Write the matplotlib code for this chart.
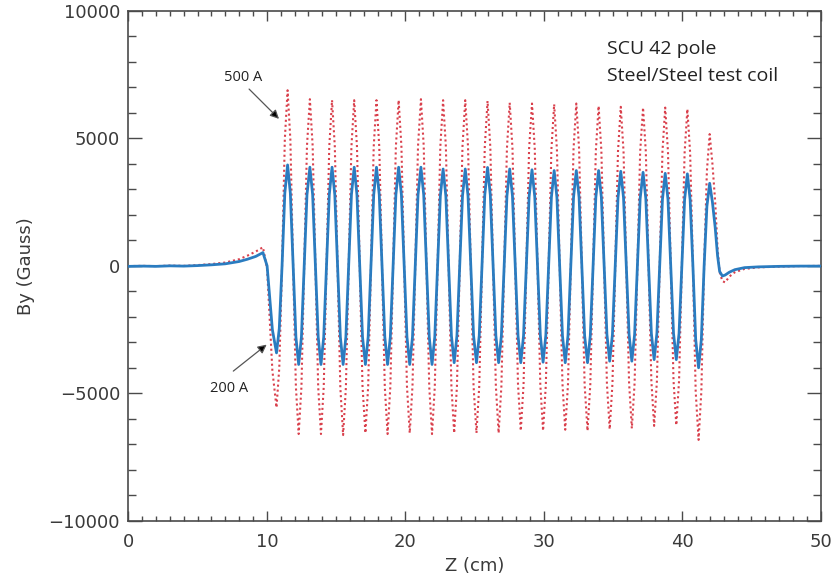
import matplotlib
matplotlib.use("Agg")
import matplotlib.pyplot as plt
from matplotlib.ticker import MultipleLocator

# ---------------- data ----------------
z_cm = [
    0.0, 1.0, 2.0, 3.0, 4.0, 5.0, 6.0, 7.0, 8.0, 8.6, 9.2, 9.72, 10.02, 10.40,
    10.70, 10.90, 11.10, 11.30,
    11.50, 11.70, 11.90, 12.10,
    12.30, 12.50, 12.70, 12.90,
    13.11, 13.31, 13.51, 13.71,
    13.91, 14.11, 14.31, 14.51,
    14.71, 14.91, 15.11, 15.31,
    15.51, 15.71, 15.91, 16.11,
    16.31, 16.51, 16.71, 16.91,
    17.12, 17.32, 17.52, 17.72,
    17.92, 18.12, 18.32, 18.52,
    18.72, 18.92, 19.12, 19.32,
    19.52, 19.72, 19.92, 20.12,
    20.32, 20.52, 20.72, 20.92,
    21.13, 21.33, 21.53, 21.73,
    21.93, 22.13, 22.33, 22.53,
    22.73, 22.93, 23.13, 23.33,
    23.53, 23.73, 23.93, 24.13,
    24.33, 24.53, 24.73, 24.93,
    25.14, 25.34, 25.54, 25.74,
    25.94, 26.14, 26.34, 26.54,
    26.74, 26.94, 27.14, 27.34,
    27.54, 27.74, 27.94, 28.14,
    28.34, 28.54, 28.74, 28.94,
    29.15, 29.35, 29.55, 29.75,
    29.95, 30.15, 30.35, 30.55,
    30.75, 30.95, 31.15, 31.35,
    31.55, 31.75, 31.95, 32.15,
    32.35, 32.55, 32.75, 32.95,
    33.16, 33.36, 33.56, 33.76,
    33.96, 34.16, 34.36, 34.56,
    34.76, 34.96, 35.16, 35.36,
    35.56, 35.76, 35.96, 36.16,
    36.36, 36.56, 36.76, 36.96,
    37.17, 37.37, 37.57, 37.77,
    37.97, 38.17, 38.37, 38.57,
    38.77, 38.97, 39.17, 39.37,
    39.57, 39.77, 39.97, 40.17,
    40.37, 40.57, 40.77, 40.97,
    41.18, 41.38, 41.58, 41.78,
    41.98,
    42.18, 42.38, 42.55, 42.70, 42.90, 43.10, 43.40, 43.80, 44.50, 45.50,
    47.00, 48.50, 50.00,
]

by_200A = [
    -20, -10, -20, 0, -10, 10, 40, 80, 170, 260, 370, 520, 0, -2500,
    -3415, -2460, 0, 2850,
    3960, 2850, 0, -2790,
    -3870, -2790, 0, 2790,
    3870, 2790, 0, -2790,
    -3870, -2790, 0, 2790,
    3870, 2790, 0, -2790,
    -3870, -2790, 0, 2790,
    3870, 2790, 0, -2790,
    -3870, -2790, 0, 2790,
    3870, 2790, 0, -2790,
    -3870, -2790, 0, 2790,
    3870, 2790, 0, -2790,
    -3870, -2790, 0, 2790,
    3870, 2790, 0, -2790,
    -3870, -2790, 0, 2740,
    3800, 2740, 0, -2740,
    -3800, -2740, 0, 2740,
    3800, 2740, 0, -2740,
    -3800, -2740, 0, 2780,
    3860, 2780, 0, -2740,
    -3800, -2740, 0, 2740,
    3800, 2740, 0, -2740,
    -3800, -2740, 0, 2710,
    3770, 2710, 0, -2720,
    -3780, -2720, 0, 2690,
    3740, 2690, 0, -2740,
    -3800, -2740, 0, 2690,
    3740, 2690, 0, -2740,
    -3800, -2740, 0, 2690,
    3740, 2690, 0, -2690,
    -3740, -2690, 0, 2670,
    3710, 2670, 0, -2690,
    -3740, -2690, 0, 2640,
    3670, 2640, 0, -2650,
    -3680, -2650, 0, 2610,
    3630, 2610, 0, -2650,
    -3680, -2650, 0, 2600,
    3610, 2600, 0, -2880,
    -4000, -2880, 0, 2330,
    3240,
    2500, 1500, 400, -220, -400, -360, -250, -150, -70, -40,
    -20, -10, -10,
]

by_500A = [
    -10, 0, -10, 10, 0, 30, 70, 130, 260, 400, 560, 730, -100, -4100,
    -5560, -4000, 0, 4960,
    6890, 4960, 0, -4750,
    -6600, -4750, 0, 4710,
    6540, 4710, 0, -4750,
    -6600, -4750, 0, 4680,
    6500, 4680, 0, -4780,
    -6640, -4780, 0, 4680,
    6500, 4680, 0, -4720,
    -6560, -4720, 0, 4680,
    6500, 4680, 0, -4750,
    -6600, -4750, 0, 4680,
    6500, 4680, 0, -4720,
    -6560, -4720, 0, 4710,
    6540, 4710, 0, -4750,
    -6600, -4750, 0, 4680,
    6500, 4680, 0, -4720,
    -6560, -4720, 0, 4680,
    6500, 4680, 0, -4720,
    -6560, -4720, 0, 4660,
    6470, 4660, 0, -4720,
    -6560, -4720, 0, 4610,
    6400, 4610, 0, -4660,
    -6470, -4660, 0, 4590,
    6370, 4590, 0, -4660,
    -6470, -4660, 0, 4560,
    6340, 4560, 0, -4630,
    -6430, -4630, 0, 4590,
    6370, 4590, 0, -4660,
    -6470, -4660, 0, 4510,
    6270, 4510, 0, -4620,
    -6410, -4620, 0, 4490,
    6240, 4490, 0, -4590,
    -6380, -4590, 0, 4470,
    6210, 4470, 0, -4520,
    -6280, -4520, 0, 4470,
    6210, 4470, 0, -4500,
    -6250, -4500, 0, 4430,
    6150, 4430, 0, -4920,
    -6830, -4920, 0, 3720,
    5170,
    4000, 2500, 700, -250, -600, -650, -420, -250, -120, -60,
    -30, -10, 0,
]

x_ticks = [0, 10, 20, 30, 40, 50]
y_ticks = [-10000, -5000, 0, 5000, 10000]

# ---------------- figure ----------------
fig = plt.figure(figsize=(8.35, 5.79), dpi=100)
ax = fig.add_axes([0.1537, 0.1007, 0.8292, 0.8803])

ax.plot(z_cm, by_500A, linestyle=(0, (1.0, 1.4)), color='#d9404c', lw=1.5, zorder=2)
ax.plot(z_cm, by_200A, linestyle='-', color='#2a7cc0', lw=2.0, zorder=3)

ax.set_xlim(0, 50)
ax.set_ylim(-10000, 10000)
ax.set_xticks(x_ticks)
ax.set_yticks(y_ticks)
ax.xaxis.set_minor_locator(MultipleLocator(1))
ax.yaxis.set_minor_locator(MultipleLocator(1000))

spine_col = '#4a4a4a'
for s in ax.spines.values():
    s.set_color(spine_col)
    s.set_linewidth(1.2)

ax.tick_params(axis='both', which='both', direction='in', colors=spine_col,
               labelcolor='#3a3a3a', labelsize=13, top=True, right=True)
ax.tick_params(axis='x', which='major', length=7, width=1.0, pad=9)
ax.tick_params(axis='x', which='minor', length=3.5, width=1.0)
ax.tick_params(axis='y', which='major', length=10, width=1.0, pad=6)
ax.tick_params(axis='y', which='minor', length=5.5, width=1.0)

ax.set_xlabel('Z (cm)', fontsize=13, color='#3a3a3a', labelpad=4)
ax.set_ylabel('By (Gauss)', fontsize=13, color='#3a3a3a', labelpad=10)

ax.text(34.54, 8500, 'SCU 42 pole', fontsize=14, color='#222222',
        family='Open Sans', va='center', ha='left')
ax.text(34.54, 7445, 'Steel/Steel test coil', fontsize=14, color='#222222',
        family='Open Sans', va='center', ha='left')

arrow_kw = dict(arrowstyle='-|>', color='#555555', lw=0.9,
                mutation_scale=13, shrinkA=0, shrinkB=0)
ax.annotate('', xy=(10.88, 5767), xytext=(8.72, 6937),
            arrowprops=dict(arrow_kw, fc='black', ec='#555555'))
ax.text(8.28, 7405, '500 A', fontsize=10.5, color='#222222',
        family='Open Sans', ha='center', va='center')
ax.annotate('', xy=(9.99, -3090), xytext=(7.58, -4130),
            arrowprops=dict(arrow_kw, fc='black', ec='#555555'))
ax.text(7.24, -4820, '200 A', fontsize=10.5, color='#222222',
        family='Open Sans', ha='center', va='center')

fig.savefig('out.png', dpi=100)
